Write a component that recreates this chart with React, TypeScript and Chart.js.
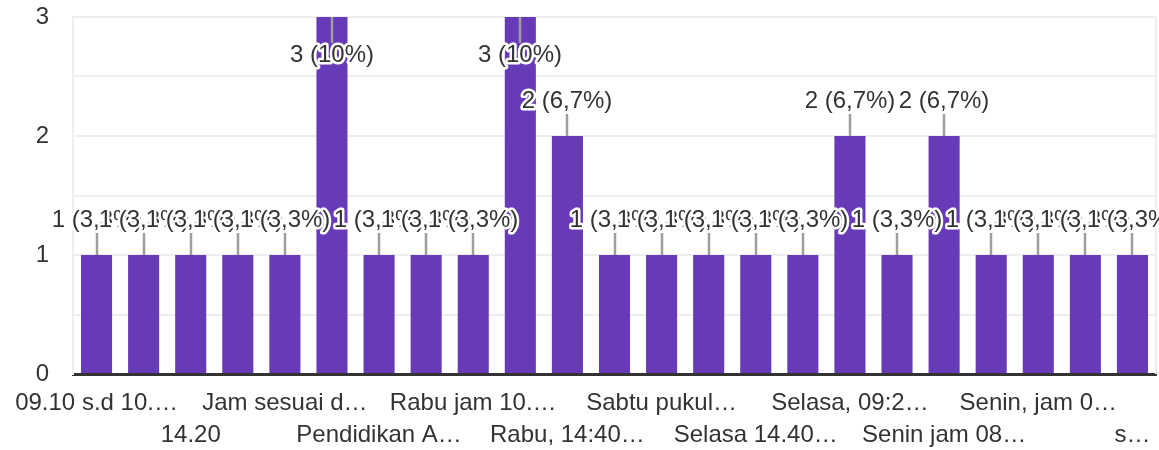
import React, { useEffect, useRef } from 'react';
import { Chart, registerables } from 'chart.js';

Chart.register(...registerables);

const categories: string[] = [
  '09.10 s.d 10.…',
  '10.00 - 12.00',
  '14.20',
  'Fleksibel',
  'Jam sesuai d…',
  'Kamis, 13:00',
  'Pendidikan A…',
  'Rabu jam 08.…',
  'Rabu jam 10.…',
  'Rabu, 10:00',
  'Rabu, 14:40…',
  'Sabtu jam 09…',
  'Sabtu pukul…',
  'Selasa 10.00',
  'Selasa 14.40…',
  'Selasa, 08:00',
  'Selasa, 09:2…',
  'Senin 13.00',
  'Senin jam 08…',
  'Senin jam 10…',
  'Senin, jam 0…',
  'Setiap hari',
  's…',
];

const counts: number[] = [1, 1, 1, 1, 1, 3, 1, 1, 1, 3, 2, 1, 1, 1, 1, 1, 2, 1, 2, 1, 1, 1, 1];

const yTickValues: number[] = [0, 1, 2, 3];

const FONT = '"Liberation Sans", Arial, sans-serif';
const FONT_SIZE = 24;
const TEXT = '#333333';
const BAR = '#673ab7';

function pctText(v: number, total: number): string {
  const p = (v / total) * 100;
  let s = p.toFixed(1);
  if (s.endsWith('.0')) s = s.slice(0, -2);
  return s.replace('.', ',');
}

const dataLabelPlugin = {
  id: 'dataLabels',
  beforeDatasetsDraw(chart: any) {
    const { ctx, chartArea } = chart;
    ctx.save();
    ctx.strokeStyle = '#eeeeee';
    ctx.lineWidth = 2;
    ctx.beginPath();
    ctx.moveTo(chartArea.right, chartArea.top);
    ctx.lineTo(chartArea.right, chartArea.bottom);
    ctx.stroke();
    ctx.restore();
  },
  afterDatasetsDraw(chart: any) {
    const ctx = chart.ctx;
    const meta = chart.getDatasetMeta(0);
    const total = counts.reduce((a, b) => a + b, 0);
    ctx.save();
    ctx.font = `${FONT_SIZE}px ${FONT}`;
    ctx.textAlign = 'center';
    ctx.textBaseline = 'alphabetic';
    meta.data.forEach((bar: any, i: number) => {
      const v = counts[i];
      const text = `${v} (${pctText(v, total)}%)`;
      const x = Math.round(bar.x);
      const top = bar.y;
      const below = top - 45 < 0;
      let y1: number, y2: number, base: number;
      if (below) {
        y1 = top;
        y2 = top + 26;
        base = top + 45;
      } else {
        y1 = top - 22;
        y2 = top;
        base = top - 28;
      }
      ctx.strokeStyle = '#9e9e9e';
      ctx.lineWidth = 2.5;
      ctx.beginPath();
      ctx.moveTo(x, y1);
      ctx.lineTo(x, y2);
      ctx.stroke();
      ctx.lineJoin = 'round';
      ctx.strokeStyle = '#ffffff';
      ctx.lineWidth = 5;
      ctx.strokeText(text, x, base);
      ctx.fillStyle = TEXT;
      ctx.fillText(text, x, base);
    });
    ctx.restore();
  },
};

export default function App() {
  const ref = useRef<HTMLCanvasElement | null>(null);

  useEffect(() => {
    document.body.style.margin = '0';
    if (!ref.current) return;
    const chart = new Chart(ref.current, {
      type: 'bar',
      data: {
        labels: categories,
        datasets: [
          {
            data: counts,
            backgroundColor: BAR,
            borderWidth: 0,
            categoryPercentage: 1,
            barPercentage: 0.66,
          },
        ],
      },
      options: {
        animation: false,
        responsive: false,
        maintainAspectRatio: false,
        layout: { padding: { left: 36, top: 17, right: 3, bottom: 0 } },
        plugins: {
          legend: { display: false },
          tooltip: { enabled: false },
        },
        scales: {
          x: {
            grid: { display: false, drawTicks: false },
            border: { display: true, color: '#333333', width: 3 },
            afterFit: (s: any) => {
              s.height = 76;
              s.paddingLeft = 0;
              s.paddingRight = 0;
            },
            ticks: {
              autoSkip: false,
              maxRotation: 0,
              minRotation: 0,
              padding: 13,
              color: TEXT,
              font: { family: FONT, size: FONT_SIZE, lineHeight: '32px' as any },
              callback: (_v: any, i: number) => {
                if (i % 2 === 1) return '';
                if (i % 4 === 0) return categories[i];
                return ['', categories[i]];
              },
            },
          },
          y: {
            min: 0,
            max: 3,
            afterFit: (s: any) => {
              s.width = 37;
              s.paddingTop = 0;
              s.paddingBottom = 0;
            },
            grid: {
              drawTicks: false,
              lineWidth: 2,
              color: (c: any) => (c.tick && c.tick.value === 0 ? 'rgba(0,0,0,0)' : '#eeeeee'),
            },
            border: { display: true, color: '#eeeeee', width: 2 },
            ticks: {
              stepSize: 0.5,
              padding: 24,
              color: TEXT,
              font: { family: FONT, size: FONT_SIZE },
              callback: (v: any) => (yTickValues.includes(Number(v)) ? String(v) : ''),
            },
          },
        },
      },
      plugins: [dataLabelPlugin],
    });
    return () => chart.destroy();
  }, []);

  return (
    <div style={{ position: 'absolute', left: 0, top: 0, width: 1159, height: 450 }}>
      <canvas ref={ref} width={1159} height={450} style={{ width: 1159, height: 450 }} />
    </div>
  );
}
